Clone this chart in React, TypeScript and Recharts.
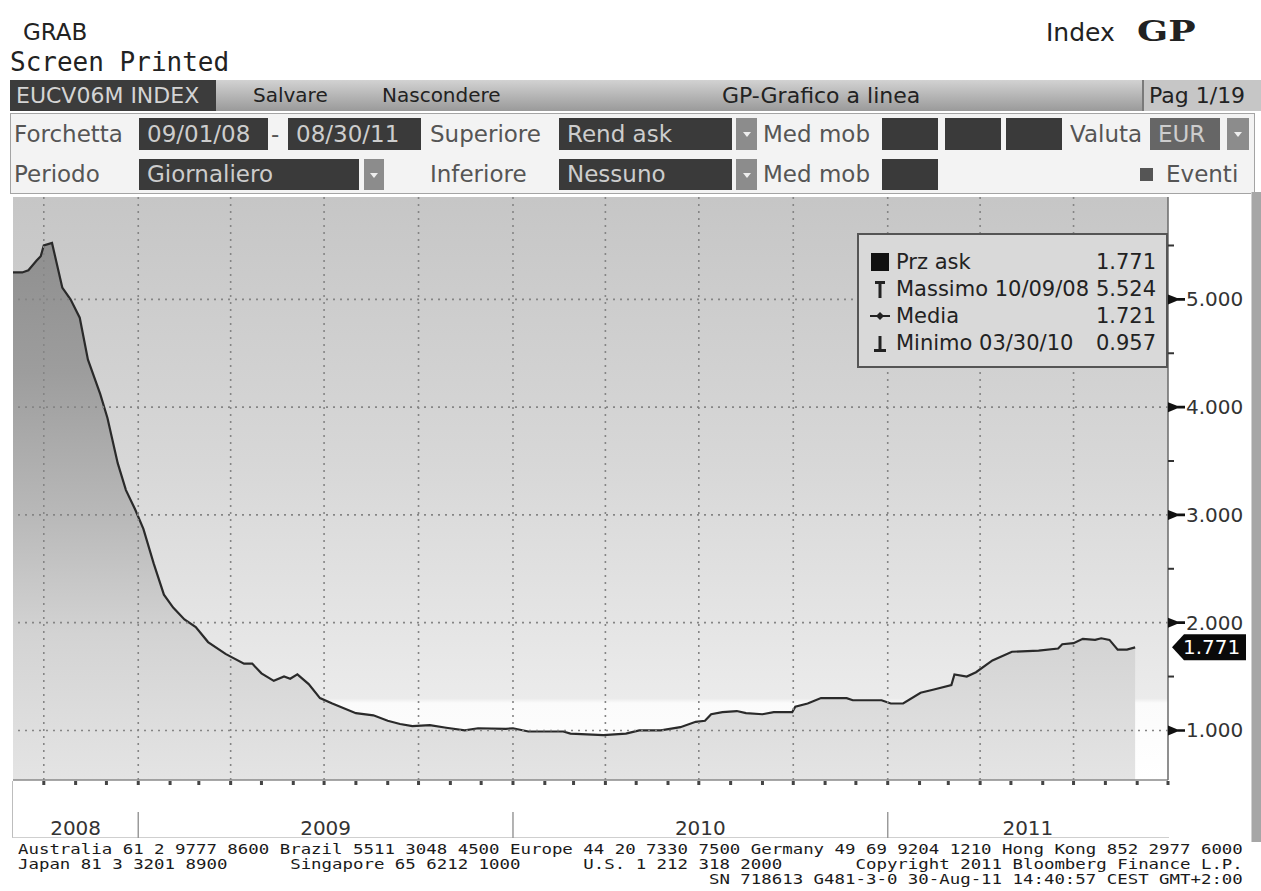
import React from 'react';
import {
  ComposedChart,
  Area,
  XAxis,
  YAxis,
  CartesianGrid,
  ReferenceLine,
  Legend,
} from 'recharts';

// EUCV06M INDEX - Rend ask, giornaliero, 09/01/08 - 08/30/11
const dates = [
  '2008-09-01', '2008-09-10', '2008-09-16', '2008-09-24', '2008-09-28', '2008-10-01', '2008-10-09',
  '2008-10-19', '2008-10-27', '2008-11-05', '2008-11-13', '2008-11-25', '2008-12-02', '2008-12-12',
  '2008-12-20', '2008-12-29', '2009-01-06', '2009-01-16', '2009-01-26', '2009-02-04', '2009-02-15',
  '2009-02-26', '2009-03-10', '2009-03-27', '2009-04-14', '2009-04-22', '2009-05-01', '2009-05-13',
  '2009-05-23', '2009-05-29', '2009-06-05', '2009-06-16', '2009-06-27', '2009-07-09', '2009-08-01',
  '2009-08-18', '2009-09-01', '2009-09-13', '2009-09-25', '2009-10-12', '2009-10-28', '2009-11-15',
  '2009-11-28', '2009-12-25', '2010-01-01', '2010-01-16', '2010-02-19', '2010-02-26', '2010-03-30',
  '2010-04-21', '2010-05-04', '2010-05-25', '2010-06-13', '2010-06-28', '2010-07-07', '2010-07-13',
  '2010-07-24', '2010-08-07', '2010-08-16', '2010-09-01', '2010-09-12', '2010-09-30', '2010-10-03',
  '2010-10-15', '2010-10-28', '2010-11-22', '2010-11-28', '2010-12-26', '2011-01-04', '2011-01-16',
  '2011-02-02', '2011-02-15', '2011-03-04', '2011-03-07', '2011-03-19', '2011-03-28', '2011-04-13',
  '2011-05-02', '2011-05-28', '2011-06-16', '2011-06-20', '2011-07-01', '2011-07-10', '2011-07-22',
  '2011-07-28', '2011-08-05', '2011-08-13', '2011-08-22', '2011-08-30',
];
const askYield = [
  5.25, 5.25, 5.27, 5.36, 5.4, 5.5, 5.524,
  5.11, 5.0, 4.83, 4.44, 4.12, 3.9, 3.48,
  3.23, 3.05, 2.87, 2.55, 2.26, 2.14, 2.03,
  1.96, 1.82, 1.71, 1.62, 1.62, 1.53, 1.46,
  1.5, 1.48, 1.52, 1.43, 1.3, 1.25, 1.16,
  1.14, 1.09, 1.06, 1.04, 1.05, 1.025, 1.0,
  1.02, 1.015, 1.02, 0.99, 0.99, 0.97, 0.957,
  0.97, 1.0, 1.0, 1.03, 1.08, 1.09, 1.15,
  1.17, 1.18, 1.16, 1.15, 1.17, 1.17, 1.22,
  1.25, 1.3, 1.3, 1.28, 1.28, 1.25, 1.25,
  1.35, 1.38, 1.42, 1.52, 1.5, 1.54, 1.65,
  1.73, 1.74, 1.76, 1.8, 1.81, 1.85, 1.84,
  1.855, 1.84, 1.75, 1.75, 1.771,
];

const yTicks = [1, 1.5, 2, 2.5, 3, 3.5, 4, 4.5, 5, 5.5];
const yearLabels = ['2008', '2009', '2010', '2011'];
const yearStarts = ['2009-01-01', '2010-01-01', '2011-01-01'];
const rangeStart = '2008-09-01';
const rangeEnd = '2011-10-01';

const legendNames = ['Prz ask', 'Massimo 10/09/08', 'Media', 'Minimo 03/30/10'];
const legendValues = ['1.771', '5.524', '1.721', '0.957'];
const lastAsk = 1.771;

const footerLines = [
  'Australia 61 2 9777 8600 Brazil 5511 3048 4500 Europe 44 20 7330 7500 Germany 49 69 9204 1210 Hong Kong 852 2977 6000',
  'Japan 81 3 3201 8900      Singapore 65 6212 1000      U.S. 1 212 318 2000       Copyright 2011 Bloomberg Finance L.P.',
  '                                                                  SN 718613 G481-3-0 30-Aug-11 14:40:57 CEST GMT+2:00',
];

const FONT = '"DejaVu Sans", Verdana, sans-serif';
const MONO = '"DejaVu Sans Mono", monospace';

const ts = (d: string) => {
  const [y, m, dd] = d.split('-').map(Number);
  return Date.UTC(y, m - 1, dd);
};

const chartData = dates.map((d, i) => ({ t: ts(d), v: askYield[i] }));
const X_MIN = ts(rangeStart);
const X_MAX = ts(rangeEnd);

// monthly tick marks on the time axis, dotted grid every quarter
const monthTicks: number[] = [];
for (let i = 1; i <= 37; i++) monthTicks.push(Date.UTC(2008, 8 + i, 1));
const quarterLines = monthTicks.filter((_, i) => i % 3 === 0 && i < 36);

const yearEdges = [X_MIN, ...yearStarts.map(ts), X_MAX];
const yearMids = yearLabels.map((_, i) => (yearEdges[i] + yearEdges[i + 1]) / 2);
const yearLabelAt = new Map<number, string>(yearMids.map((m, i) => [m, yearLabels[i]]));
const yearTicks = [...yearStarts.map(ts), ...yearMids].sort((a, b) => a - b);

function MonthTick(props: any) {
  const { x, y } = props;
  return <rect x={x - 1.5} y={y + 1} width={3} height={4} fill="#444" />;
}

function PriceTick(props: any) {
  const { x, y, payload } = props;
  const v = payload.value as number;
  if (v % 1 !== 0) {
    return <line x1={x} x2={x + 6} y1={y} y2={y} stroke="#333" strokeWidth={2} />;
  }
  return (
    <g>
      <polygon
        points={`${x},${y - 5} ${x + 9},${y - 1.3} ${x + 17},${y - 1.3} ${x + 17},${y + 1.3} ${x + 9},${y + 1.3} ${x},${y + 5}`}
        fill="#111"
      />
      <text x={x + 18} y={y + 7} fontFamily={FONT} fontSize={20} fill="#333">
        {v.toFixed(3)}
      </text>
    </g>
  );
}

function YearTick(props: any) {
  const { x, y, payload } = props;
  const label = yearLabelAt.get(payload.value);
  if (label) {
    return (
      <text x={x} y={y + 47} textAnchor="middle" fontFamily={FONT} fontSize={20} fill="#333">
        {label}
      </text>
    );
  }
  return <line x1={x} x2={x} y1={y + 24} y2={y + 50} stroke="#9a9a9a" strokeWidth={1.5} />;
}

function LastLabel(props: any) {
  const vb = props.viewBox || {};
  const r = (vb.x || 0) + (vb.width || 0);
  const cy = vb.y || 0;
  return (
    <g>
      <polygon
        points={`${r + 4},${cy} ${r + 16},${cy - 13} ${r + 78},${cy - 13} ${r + 78},${cy + 13} ${r + 16},${cy + 13}`}
        fill="#0a0a0a"
      />
      <text x={r + 15} y={cy + 7} fontFamily={FONT} fontSize={20} fill="#fff">
        {lastAsk.toFixed(3)}
      </text>
    </g>
  );
}

function LegendIcon({ i }: { i: number }) {
  if (i === 0) return <rect x={1} y={1} width={18} height={18} fill="#111" />;
  if (i === 1)
    return (
      <g fill="#222">
        <rect x={5} y={2} width={10} height={3} />
        <rect x={8.5} y={2} width={3} height={17} />
      </g>
    );
  if (i === 2)
    return (
      <g>
        <line x1={0} x2={20} y1={10} y2={10} stroke="#222" strokeWidth={2} />
        <polygon points="10,6 14,10 10,14 6,10" fill="#222" />
      </g>
    );
  return (
    <g fill="#222">
      <rect x={8.5} y={3} width={3} height={16} />
      <rect x={4} y={16} width={12} height={3} />
    </g>
  );
}

function LegendBox() {
  return (
    <div
      style={{
        width: 311,
        height: 135,
        boxSizing: 'border-box',
        border: '2px solid #555',
        background: '#d9d9d9',
        fontFamily: FONT,
        fontSize: 21,
        color: '#222',
        padding: '14px 10px 0 11px',
      }}
    >
      {legendNames.map((n, i) => (
        <div key={n} style={{ display: 'flex', alignItems: 'center', height: 27, lineHeight: '27px' }}>
          <svg width={22} height={22} style={{ flex: 'none' }}>
            <LegendIcon i={i} />
          </svg>
          <span style={{ marginLeft: 4, whiteSpace: 'nowrap' }}>{n}</span>
          <span style={{ marginLeft: 'auto' }}>{legendValues[i]}</span>
        </div>
      ))}
    </div>
  );
}

function Txt(props: { x: number; y: number; h: number; size: number; color?: string; children: any; style?: any }) {
  return (
    <div
      style={{
        position: 'absolute',
        left: props.x,
        top: props.y,
        height: props.h,
        lineHeight: `${props.h}px`,
        fontFamily: FONT,
        fontSize: props.size,
        color: props.color || '#222',
        whiteSpace: 'nowrap',
        ...props.style,
      }}
    >
      {props.children}
    </div>
  );
}

function DarkBox(props: { x: number; y: number; w: number; h: number; text?: string; bg?: string }) {
  return (
    <div
      style={{
        position: 'absolute',
        left: props.x,
        top: props.y,
        width: props.w,
        height: props.h,
        background: props.bg || '#3a3a3a',
        color: '#cdcdcd',
        fontFamily: FONT,
        fontSize: 23,
        lineHeight: `${props.h}px`,
        paddingLeft: 8,
        boxSizing: 'border-box',
        whiteSpace: 'nowrap',
        overflow: 'hidden',
      }}
    >
      {props.text}
    </div>
  );
}

function Drop(props: { x: number; y: number; w: number; h: number }) {
  return (
    <div
      style={{
        position: 'absolute',
        left: props.x,
        top: props.y,
        width: props.w,
        height: props.h,
        background: '#8c8c8c',
      }}
    >
      <div
        style={{
          position: 'absolute',
          left: props.w / 2 - 4,
          top: props.h / 2 - 2,
          width: 0,
          height: 0,
          borderLeft: '4px solid transparent',
          borderRight: '4px solid transparent',
          borderTop: '5px solid #eee',
        }}
      />
    </div>
  );
}

export default function App() {
  return (
    <div
      style={{
        position: 'fixed',
        left: 0,
        top: 0,
        width: 1261,
        height: 891,
        background: '#fff',
        overflow: 'hidden',
      }}
    >
      {/* title lines */}
      <Txt x={23} y={17} h={30} size={23}>GRAB</Txt>
      <Txt x={10} y={48} h={28} size={26} style={{ fontFamily: MONO }}>Screen Printed</Txt>
      <Txt x={1046} y={18} h={30} size={25}>Index</Txt>
      <Txt
        x={1137}
        y={17}
        h={30}
        size={27}
        style={{
          fontFamily: '"DejaVu Serif", "Liberation Serif", serif',
          fontWeight: 'bold',
          transform: 'scaleX(1.35)',
          transformOrigin: '0 0',
        }}
      >
        GP
      </Txt>

      {/* menu bar */}
      <div
        style={{
          position: 'absolute',
          left: 10,
          top: 80,
          width: 1251,
          height: 31,
          background: 'linear-gradient(to bottom, #d2d2d2, #9a9a9a)',
        }}
      />
      <DarkBox x={10} y={80} w={206} h={31} bg="#3c3c3c" />
      <Txt x={16} y={80} h={31} size={22} color="#d4d4d4">EUCV06M INDEX</Txt>
      <Txt x={253} y={80} h={31} size={20}>Salvare</Txt>
      <Txt x={382} y={80} h={31} size={20}>Nascondere</Txt>
      <Txt x={722} y={80} h={31} size={22}>GP-Grafico a linea</Txt>
      <div
        style={{
          position: 'absolute',
          left: 1142,
          top: 80,
          width: 119,
          height: 31,
          background: '#c6c6c6',
          borderLeft: '2px solid #7a7a7a',
          boxSizing: 'border-box',
        }}
      />
      <Txt x={1149} y={80} h={31} size={22}>Pag 1/19</Txt>

      {/* parameter rows */}
      <div
        style={{
          position: 'absolute',
          left: 10,
          top: 113,
          width: 1245,
          height: 81,
          background: '#f3f3f3',
          border: '1px solid #a4a4a4',
          boxSizing: 'border-box',
        }}
      />
      <Txt x={14} y={118} h={32} size={23} color="#555">Forchetta</Txt>
      <DarkBox x={139} y={118} w={129} h={32} text="09/01/08" />
      <Txt x={271} y={118} h={32} size={23} color="#555">-</Txt>
      <DarkBox x={288} y={118} w={133} h={32} text="08/30/11" />
      <Txt x={430} y={118} h={32} size={23} color="#555">Superiore</Txt>
      <DarkBox x={559} y={118} w={173} h={32} text="Rend ask" />
      <Drop x={736} y={118} w={21} h={32} />
      <Txt x={763} y={118} h={32} size={23} color="#555">Med mob</Txt>
      <DarkBox x={882} y={118} w={56} h={32} />
      <DarkBox x={945} y={118} w={56} h={32} />
      <DarkBox x={1006} y={118} w={56} h={32} />
      <Txt x={1070} y={118} h={32} size={23} color="#555">Valuta</Txt>
      <DarkBox x={1150} y={118} w={70} h={32} text="EUR" bg="#666" />
      <Drop x={1227} y={118} w={22} h={32} />

      <Txt x={14} y={159} h={31} size={23} color="#555">Periodo</Txt>
      <DarkBox x={139} y={159} w={220} h={31} text="Giornaliero" />
      <Drop x={364} y={159} w={20} h={31} />
      <Txt x={430} y={159} h={31} size={23} color="#555">Inferiore</Txt>
      <DarkBox x={559} y={159} w={173} h={31} text="Nessuno" />
      <Drop x={736} y={159} w={21} h={31} />
      <Txt x={763} y={159} h={31} size={23} color="#555">Med mob</Txt>
      <DarkBox x={882} y={159} w={56} h={31} />
      <div style={{ position: 'absolute', left: 1140, top: 168, width: 13, height: 13, background: '#555' }} />
      <Txt x={1166} y={159} h={31} size={23} color="#555">Eventi</Txt>

      {/* year band frame */}
      <div
        style={{
          position: 'absolute',
          left: 12,
          top: 781,
          width: 1157,
          height: 57,
          borderLeft: '1.5px solid #bdbdbd',
          borderBottom: '1.5px solid #cfcfcf',
          boxSizing: 'border-box',
        }}
      />

      <div style={{ position: 'absolute', left: 0, top: 190 }}>
        <ComposedChart
          width={1261}
          height={660}
          data={chartData}
          margin={{ top: 7, right: 0, bottom: 10, left: 13 }}
        >
          <defs>
            <linearGradient id="bgGrad" x1="0" y1="0" x2="0" y2="1">
              <stop offset="0" stopColor="#c6c6c6" />
              <stop offset="0.45" stopColor="#d7d7d7" />
              <stop offset="0.86" stopColor="#ebebeb" />
              <stop offset="0.868" stopColor="#fbfbfb" />
              <stop offset="1" stopColor="#ffffff" />
            </linearGradient>
            <linearGradient id="areaGrad" gradientUnits="userSpaceOnUse" x1="0" y1="7" x2="0" y2="590">
              <stop offset="0" stopColor="#8a8a8a" />
              <stop offset="0.3" stopColor="#9d9d9d" />
              <stop offset="0.55" stopColor="#b9b9b9" />
              <stop offset="0.75" stopColor="#d3d3d3" />
              <stop offset="1" stopColor="#e4e4e4" />
            </linearGradient>
          </defs>
          <CartesianGrid horizontal={false} vertical={false} fill="url(#bgGrad)" />
          <XAxis
            dataKey="t"
            type="number"
            domain={[X_MIN, X_MAX]}
            allowDataOverflow
            ticks={monthTicks}
            interval={0}
            tick={<MonthTick />}
            tickSize={0}
            tickMargin={0}
            tickLine={false}
            axisLine={{ stroke: '#8a8a8a', strokeWidth: 1.5 }}
            height={8}
          />
          <XAxis
            xAxisId="year"
            dataKey="t"
            type="number"
            domain={[X_MIN, X_MAX]}
            allowDataOverflow
            ticks={yearTicks}
            interval={0}
            axisLine={false}
            tickLine={false}
            tickSize={0}
            tickMargin={0}
            tick={<YearTick />}
            height={52}
          />
          <YAxis
            orientation="right"
            type="number"
            domain={[0.54, 5.95]}
            allowDataOverflow
            ticks={yTicks}
            interval={0}
            width={93}
            tickSize={0}
            tickMargin={0}
            tickLine={false}
            axisLine={{ stroke: '#6a6a6a', strokeWidth: 1.5 }}
            tick={<PriceTick />}
          />
          <Area
            type="linear"
            dataKey="v"
            stroke="#2a2a2a"
            strokeWidth={2.2}
            fill="url(#areaGrad)"
            fillOpacity={1}
            dot={false}
            activeDot={false}
            isAnimationActive={false}
          />
          {quarterLines.map((q) => (
            <ReferenceLine key={q} x={q} stroke="#858585" strokeWidth={1.6} strokeDasharray="2 5" />
          ))}
          {[1, 2, 3, 4, 5].map((v) => (
            <ReferenceLine key={v} y={v} stroke="#858585" strokeWidth={1.6} strokeDasharray="2 5" />
          ))}
          <ReferenceLine y={lastAsk} stroke="none" label={<LastLabel />} />
          <Legend
            layout="vertical"
            align="center"
            verticalAlign="middle"
            content={<LegendBox />}
            wrapperStyle={{ left: 857, top: 43, width: 311, height: 135 }}
          />
        </ComposedChart>
      </div>

      {/* right scroll strip */}
      <div
        style={{
          position: 'absolute',
          left: 1251,
          top: 192,
          width: 10,
          height: 650,
          background: '#a6a6a6',
          borderLeft: '1px solid #d0d0d0',
        }}
      />

      {/* footer */}
      <div
        style={{
          position: 'absolute',
          left: 18,
          top: 842,
          fontFamily: MONO,
          fontSize: 14,
          lineHeight: '15px',
          color: '#1a1a1a',
          whiteSpace: 'pre',
          transform: 'scaleX(1.242)',
          transformOrigin: '0 0',
        }}
      >
        {footerLines.map((l, i) => (
          <div key={i}>{l}</div>
        ))}
      </div>
    </div>
  );
}
